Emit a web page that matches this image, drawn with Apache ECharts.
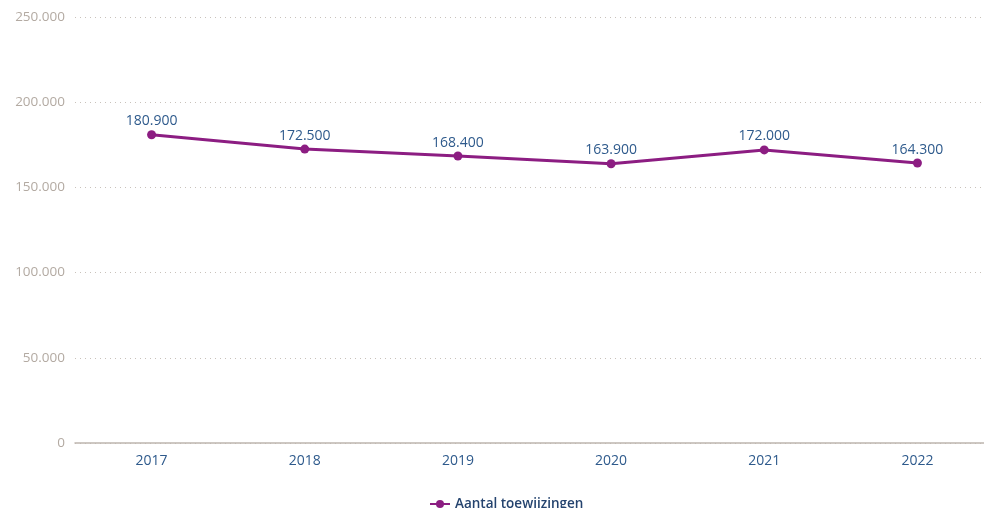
<!DOCTYPE html>
<html>
<head>
<meta charset="utf-8">
<script src="https://cdn.jsdelivr.net/npm/echarts@6/dist/echarts.min.js"></script>
<style>
	html, body { margin: 0; padding: 0; background: #fff; overflow: hidden; }
	#chart { width: 1000px; height: 508px; }
</style>
</head>
<body>
<div id="chart"></div>
<script>
var years = ["2017", "2018", "2019", "2020", "2021", "2022"];
var toewijzingen = [180900, 172500, 168400, 163900, 172000, 164300];
var seriesName = "Aantal toewijzingen";

// getal met punt als duizendtal-scheiding
function formatNumber(v) {
	return String(v).replace(/\B(?=(\d{3})+(?!\d))/g, ".");
}

var chart = echarts.init(document.getElementById("chart"));
var option = {
	animation: false,
	textStyle: {
		fontFamily: "Open Sans"
	},
	legend: {
		data: [seriesName],
		bottom: -8,
		left: 424,
		itemWidth: 20,
		itemHeight: 10,
		textStyle: {
			color: "#24436e",
			fontSize: 13.5,
			fontWeight: 600
		}
	},
	grid: {
		top: 17,
		left: 75,
		width: 919,
		bottom: 65
	},
	xAxis: {
		type: "category",
		data: years,
		boundaryGap: true,
		axisLine: {
			lineStyle: {
				color: "#bdb5ae",
				width: 1.5
			}
		},
		axisTick: {
			show: false
		},
		axisLabel: {
			color: "#2e5a8c",
			fontSize: 14,
			margin: 11
		}
	},
	yAxis: {
		type: "value",
		min: 0,
		max: 250000,
		interval: 50000,
		axisLine: {
			show: false
		},
		axisTick: {
			show: false
		},
		axisLabel: {
			color: "#b3aaa2",
			fontSize: 13.5,
			margin: 10,
			formatter: function (v) {
				return formatNumber(v);
			}
		},
		splitLine: {
			lineStyle: {
				color: "#c9c2bb",
				type: [1, 4],
				width: 1
			}
		}
	},
	series: [
		{
			name: seriesName,
			type: "line",
			data: toewijzingen,
			symbol: "circle",
			symbolSize: 9,
			lineStyle: {
				color: "#8c1d82",
				width: 3
			},
			itemStyle: {
				color: "#8c1d82"
			},
			label: {
				show: true,
				position: "top",
				distance: 2,
				color: "#2e5a8c",
				fontSize: 14,
				formatter: function (p) {
					return formatNumber(p.value);
				}
			}
		}
	]
};

chart.setOption(option);
</script>
</body>
</html>
